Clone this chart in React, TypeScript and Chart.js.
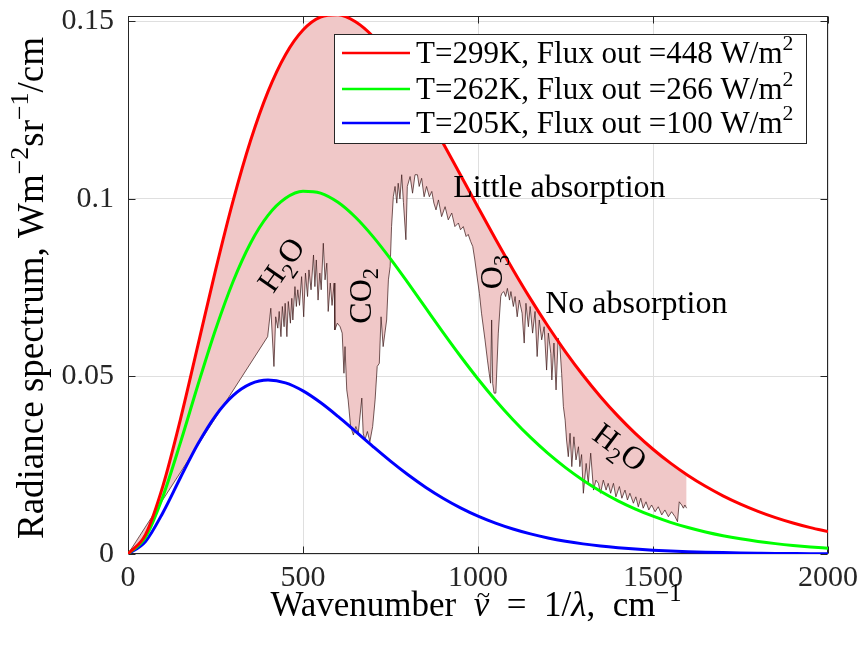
import React, { useEffect, useRef } from "react";
import { Chart, registerables } from "chart.js";

Chart.register(...registerables);

// ---- data ----
const wavenumbers = [0, 50, 100, 150, 200, 250, 300, 350, 400, 450, 500, 550, 600, 650, 700, 750, 800, 850, 900, 950, 1000,
  1050, 1100, 1150, 1200, 1250, 1300, 1350, 1400, 1450, 1500, 1550, 1600, 1650, 1700, 1750, 1800, 1850, 1900, 1950, 2000];

const radiance299 = [0, 0.00547, 0.01927, 0.03799, 0.05889, 0.07987, 0.09938, 0.11637, 0.13022, 0.14062, 0.14756, 0.15120,
  0.15184, 0.14988, 0.14574, 0.13985, 0.13264, 0.12450, 0.11576, 0.10673, 0.09765, 0.08871, 0.08007, 0.07185, 0.06413,
  0.05694, 0.05033, 0.04429, 0.03882, 0.03390, 0.02950, 0.02558, 0.02212, 0.01907, 0.01639, 0.01406, 0.01203, 0.01026,
  0.00874, 0.00743, 0.00630];

const radiance262 = [0, 0.00471, 0.01628, 0.03143, 0.04766, 0.06316, 0.07668, 0.08752, 0.09535, 0.10016, 0.10214, 0.10163,
  0.09904, 0.09482, 0.08937, 0.08309, 0.07632, 0.06936, 0.06242, 0.05569, 0.04929, 0.04332, 0.03782, 0.03282, 0.02832,
  0.02432, 0.02078, 0.01768, 0.01498, 0.01265, 0.01064, 0.00892, 0.00746, 0.00621, 0.00516, 0.00428, 0.00354, 0.00292,
  0.00240, 0.00197, 0.00162];

const radiance205 = [0, 0.00354, 0.01171, 0.02155, 0.03104, 0.03892, 0.04459, 0.04789, 0.04897, 0.04817, 0.04592, 0.04264,
  0.03873, 0.03451, 0.03026, 0.02614, 0.02230, 0.01881, 0.01571, 0.01300, 0.01067, 0.00870, 0.00704, 0.00566, 0.00453,
  0.00360, 0.00285, 0.00225, 0.00177, 0.00138, 0.00108, 0.00084, 0.00065, 0.00050, 0.00039, 0.00030, 0.00023, 0.00017,
  0.00013, 0.00010, 0.00008];

// measured spectrum [wavenumber, radiance]
const spectrum = [
  [0, 0], [399, 0.0612], [408, 0.0692], [417, 0.0528], [422, 0.0668], [428, 0.0636], [432, 0.0683], [437, 0.0612],
  [441, 0.0697], [446, 0.064], [449, 0.0706], [454, 0.0612], [458, 0.0711], [464, 0.065], [468, 0.072], [471, 0.0659],
  [477, 0.0753], [481, 0.0697], [485, 0.0744], [490, 0.070], [496, 0.0781], [502, 0.0668], [507, 0.0791], [513, 0.0725],
  [517, 0.080], [523, 0.0744], [530, 0.0842], [534, 0.0753], [538, 0.0828], [543, 0.0715], [548, 0.0791], [552, 0.0744],
  [558, 0.0875], [563, 0.0772], [568, 0.0819], [572, 0.0683], [578, 0.0763], [583, 0.0700], [589, 0.0763], [591, 0.0631],
  [598, 0.065], [606, 0.064], [612, 0.0622], [617, 0.0509], [620, 0.0584], [625, 0.0462], [629, 0.0434], [636, 0.0359],
  [644, 0.0335], [651, 0.0359], [658, 0.034], [668, 0.0439], [672, 0.034], [677, 0.0321], [684, 0.0345], [691, 0.0316],
  [699, 0.0359], [706, 0.0434], [712, 0.0528], [718, 0.0537], [723, 0.0668], [729, 0.0584], [734, 0.0622], [739, 0.0659],
  [744, 0.0772], [749, 0.0809], [753, 0.0922], [758, 0.1006], [763, 0.1035], [768, 0.0988], [772, 0.1044], [777, 0.1000],
  [782, 0.1068], [787, 0.0990], [794, 0.0885], [798, 0.1035], [806, 0.1063], [813, 0.1016], [820, 0.1068], [827, 0.1068],
  [832, 0.1035], [839, 0.1058], [846, 0.1006], [853, 0.1035], [861, 0.1006], [868, 0.1021], [874, 0.0988], [880, 0.0969],
  [887, 0.0997], [896, 0.095], [906, 0.0978], [915, 0.0941], [925, 0.096], [934, 0.0922], [944, 0.0932], [950, 0.0913],
  [958, 0.0922], [966, 0.0894], [972, 0.0900], [979, 0.088], [985, 0.0866], [991, 0.0828], [996, 0.0791], [1004, 0.0734],
  [1010, 0.0678], [1020, 0.0603], [1027, 0.0546], [1032, 0.0509], [1036, 0.0481], [1039, 0.0659], [1042, 0.0480],
  [1046, 0.0453], [1051, 0.0453], [1058, 0.0622], [1065, 0.0725], [1068, 0.0734], [1074, 0.0739], [1079, 0.0725],
  [1084, 0.0748], [1090, 0.0715], [1094, 0.0739], [1101, 0.0697], [1106, 0.0725], [1112, 0.0668], [1118, 0.0715],
  [1126, 0.0678], [1132, 0.0594], [1137, 0.0706], [1144, 0.064], [1149, 0.0697], [1156, 0.0622], [1163, 0.0683],
  [1169, 0.0556], [1175, 0.0659], [1182, 0.0603], [1189, 0.064], [1196, 0.0518], [1201, 0.0622], [1208, 0.0565],
  [1211, 0.049], [1217, 0.0594], [1223, 0.0462], [1229, 0.0608], [1234, 0.0584], [1239, 0.0509], [1244, 0.0415],
  [1249, 0.0377], [1253, 0.0321], [1258, 0.0274], [1263, 0.034], [1268, 0.0246], [1274, 0.033], [1280, 0.0265],
  [1287, 0.0302], [1291, 0.0246], [1296, 0.0280], [1301, 0.0171], [1309, 0.0255], [1315, 0.0199], [1322, 0.0284],
  [1330, 0.018], [1337, 0.0208], [1344, 0.0199], [1350, 0.0171], [1358, 0.0208], [1366, 0.018], [1372, 0.0199],
  [1379, 0.0171], [1387, 0.0199], [1394, 0.0161], [1404, 0.019], [1411, 0.0157], [1420, 0.018], [1427, 0.0152],
  [1434, 0.0171], [1444, 0.0143], [1451, 0.0161], [1458, 0.0133], [1465, 0.0157], [1472, 0.0129], [1480, 0.0147],
  [1488, 0.0124], [1496, 0.0138], [1506, 0.0119], [1515, 0.0133], [1525, 0.011], [1534, 0.0124], [1544, 0.0105],
  [1553, 0.0119], [1563, 0.0105], [1570, 0.0091], [1575, 0.0147], [1582, 0.0138], [1587, 0.0129], [1591, 0.0138],
  [1596, 0.0129],
];

const temperatures = [299, 262, 205];
const fluxOut = [448, 266, 100];
const seriesColors = ["#ff0000", "#00ff00", "#0000ff"];

const xTickStep = 500;
const yTickStep = 0.05;

// ---- text helpers ----
const FONT = '"Liberation Serif", "Times New Roman", serif';
// text, mode (0 normal, 1 sup, -1 sub), italic, tilde accent
type Part = [string, number?, boolean?, boolean?];

function fontFor(p: Part, size: number) {
  const s = p[1] ? size * 0.7 : size;
  return `${p[2] ? "italic " : ""}${s.toFixed(1)}px ${FONT}`;
}

function drawRich(ctx: CanvasRenderingContext2D, parts: Part[], x: number, y: number, size: number,
  align: "left" | "center", rot = 0, color = "#000") {
  ctx.save();
  ctx.translate(x, y);
  ctx.rotate(rot);
  ctx.fillStyle = color;
  ctx.textAlign = "left";
  ctx.textBaseline = "alphabetic";
  const widths = parts.map((p) => {
    ctx.font = fontFor(p, size);
    return ctx.measureText(p[0]).width;
  });
  const total = widths.reduce((a, b) => a + b, 0);
  let cx = align === "center" ? -total / 2 : 0;
  const base = size * 0.33;
  parts.forEach((p, i) => {
    ctx.font = fontFor(p, size);
    const m = p[1] || 0;
    const dy = m === 1 ? -size * 0.42 : m === -1 ? size * 0.24 : 0;
    ctx.fillText(p[0], cx, base + dy);
    if (p[3]) {
      ctx.font = `${(size * 0.7).toFixed(1)}px ${FONT}`;
      const tw = ctx.measureText("~").width;
      ctx.fillText("~", cx + widths[i] / 2 - tw / 2 + size * 0.05, base - size * 0.36);
    }
    cx += widths[i];
  });
  ctx.restore();
}

const annotations: { parts: Part[]; x: number; y: number; rot: number; align: "left" | "center" }[] = [
  { parts: [["H"], ["2", -1], ["O"]], x: 437, y: 0.0815, rot: -55, align: "center" },
  { parts: [["CO"], ["2", -1]], x: 663, y: 0.0727, rot: -90, align: "center" },
  { parts: [["Little absorption"]], x: 929, y: 0.1034, rot: 0, align: "left" },
  { parts: [["O"], ["3", -1]], x: 1037, y: 0.0794, rot: -90, align: "center" },
  { parts: [["No absorption"]], x: 1192, y: 0.0707, rot: 0, align: "left" },
  { parts: [["H"], ["2", -1], ["O"]], x: 1406, y: 0.0301, rot: 37, align: "center" },
];

const decor = {
  id: "decor",
  beforeDatasetsDraw(chart: any) {
    const { ctx, chartArea: a, scales } = chart;
    ctx.save();
    ctx.strokeStyle = "#262626";
    ctx.lineWidth = 1;
    const L = Math.round(a.left) + 0.5, R = Math.round(a.right) - 0.5;
    const T = Math.round(a.top) + 0.5, B = Math.round(a.bottom) - 0.5;
    ctx.strokeRect(L, T, R - L, B - T);
    ctx.beginPath();
    const tl = 7;
    for (let v = 0; v <= 2000; v += xTickStep) {
      const px = Math.round(scales.x.getPixelForValue(v)) + 0.5;
      ctx.moveTo(px, B); ctx.lineTo(px, B - tl);
      ctx.moveTo(px, T); ctx.lineTo(px, T + tl);
    }
    for (let v = 0; v <= 0.1501; v += yTickStep) {
      const py = Math.round(scales.y.getPixelForValue(v)) + 0.5;
      ctx.moveTo(L, py); ctx.lineTo(L + tl, py);
      ctx.moveTo(R, py); ctx.lineTo(R - tl, py);
    }
    ctx.stroke();
    ctx.restore();
  },
  afterDatasetsDraw(chart: any) {
    const { ctx, scales } = chart;
    annotations.forEach((an) => {
      drawRich(ctx, an.parts, scales.x.getPixelForValue(an.x), scales.y.getPixelForValue(an.y), 32,
        an.align, (an.rot * Math.PI) / 180, "#000");
    });
    // legend
    const bx = 334, by = 34, bw = 472, bh = 109;
    ctx.save();
    ctx.fillStyle = "#ffffff";
    ctx.fillRect(bx, by, bw, bh);
    ctx.strokeStyle = "#262626";
    ctx.lineWidth = 1;
    ctx.strokeRect(bx + 0.5, by + 0.5, bw, bh);
    const rows = [53, 89, 123];
    temperatures.forEach((t, i) => {
      ctx.strokeStyle = seriesColors[i];
      ctx.lineWidth = 2.5;
      ctx.beginPath();
      ctx.moveTo(342, rows[i]);
      ctx.lineTo(410, rows[i]);
      ctx.stroke();
      drawRich(ctx, [[`T=${t}K, Flux out =${fluxOut[i]} W/m`], ["2", 1]], 416, rows[i], 31, "left", 0, "#000");
    });
    ctx.restore();
  },
  afterDraw(chart: any) {
    const { ctx } = chart;
    drawRich(ctx, [["Wavenumber  "], ["ν", 0, true, true], ["  =  1/"], ["λ", 0, true], [",  cm"], ["−1", 1]],
      476, 604, 35, "center", 0, "#000");
    drawRich(ctx, [["Radiance spectrum, Wm"], ["−2", 1], ["sr"], ["−1", 1], ["/cm"]],
      31, 288, 37, "center", -Math.PI / 2, "#000");
  },
};

export default function App() {
  const ref = useRef<HTMLCanvasElement>(null);
  useEffect(() => {
    const canvas = ref.current!;
    const curve = (vals: number[]) => wavenumbers.map((x, i) => ({ x, y: vals[i] }));
    const tickFont = { family: FONT, size: 30 };
    const chart = new Chart(canvas, {
      type: "line",
      data: {
        datasets: [
          { label: "T=299K", data: curve(radiance299), borderColor: seriesColors[0], borderWidth: 3, pointRadius: 0,
            cubicInterpolationMode: "monotone", fill: false },
          { label: "T=262K", data: curve(radiance262), borderColor: seriesColors[1], borderWidth: 3, pointRadius: 0,
            cubicInterpolationMode: "monotone", fill: false },
          { label: "T=205K", data: curve(radiance205), borderColor: seriesColors[2], borderWidth: 3, pointRadius: 0,
            cubicInterpolationMode: "monotone", fill: false },
          { label: "spectrum", data: spectrum.map(([x, y]) => ({ x, y })), borderColor: "rgba(60,25,25,0.9)",
            borderWidth: 0.8, pointRadius: 0, tension: 0, fill: { target: 0 }, backgroundColor: "rgb(240,200,200)" },
        ],
      },
      options: {
        responsive: false,
        animation: false,
        events: [],
        layout: { padding: { left: 0, right: 31, top: 16, bottom: 0 } },
        plugins: { legend: { display: false }, tooltip: { enabled: false } },
        scales: {
          x: {
            type: "linear", min: 0, max: 2000,
            afterFit: (s: any) => { s.height = 91; s.paddingLeft = 0; s.paddingRight = 0; },
            ticks: { stepSize: xTickStep, padding: 6, font: tickFont, color: "#262626", maxRotation: 0, autoSkip: false,
              includeBounds: false, callback: (v: any) => String(v) },
            grid: { color: "#dfdfdf", drawTicks: false },
            border: { display: false },
          },
          y: {
            type: "linear", min: 0, max: 0.1515,
            afterFit: (s: any) => { s.width = 128; s.paddingTop = 0; s.paddingBottom = 0; },
            ticks: { stepSize: yTickStep, padding: 14, font: tickFont, color: "#262626", includeBounds: false,
              callback: (v: any) => String(+Number(v).toFixed(2)) },
            grid: { color: "#dfdfdf", drawTicks: false },
            border: { display: false },
          },
        },
      } as any,
      plugins: [decor],
    });
    return () => chart.destroy();
  }, []);
  return (
    <div style={{ position: "fixed", left: 0, top: 0, width: 859, height: 645, background: "#fff" }}>
      <canvas ref={ref} width={859} height={645} style={{ display: "block" }} />
    </div>
  );
}
